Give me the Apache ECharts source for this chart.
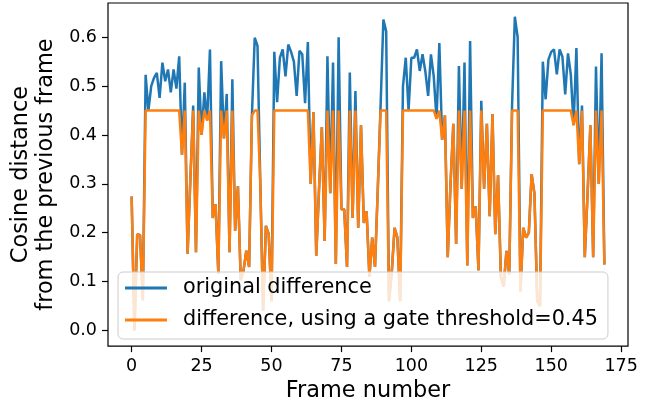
<!DOCTYPE html>
<html>
<head>
<meta charset="utf-8">
<title>Cosine distance per frame</title>
<script src="https://cdn.jsdelivr.net/npm/echarts@6/dist/echarts.min.js"></script>
<style>
  html, body { margin: 0; padding: 0; background: #fff; }
  #chart { width: 652px; height: 407px; }
</style>
</head>
<body>
<div id="chart"></div>
<script>
// cosine distance between consecutive frames
const originalDiff = [
  0.274, 0.0, 0.197, 0.195, 0.062, 0.523, 0.45, 0.50, 0.517, 0.527,
  0.476, 0.548, 0.51, 0.534, 0.487, 0.534, 0.495, 0.561, 0.359, 0.507,
  0.157, 0.31, 0.46, 0.16, 0.538, 0.40, 0.487, 0.43, 0.575, 0.23,
  0.258, 0.116, 0.551, 0.393, 0.484, 0.16, 0.514, 0.204, 0.295, 0.103,
  0.123, 0.163, 0.13, 0.44, 0.599, 0.582, 0.30, 0.04, 0.214, 0.197,
  0.06, 0.57, 0.467, 0.558, 0.575, 0.52, 0.585, 0.57, 0.55, 0.48,
  0.572, 0.565, 0.465, 0.59, 0.30, 0.447, 0.153, 0.29, 0.416, 0.183,
  0.561, 0.281, 0.548, 0.136, 0.60, 0.248, 0.248, 0.13, 0.528, 0.23,
  0.49, 0.21, 0.42, 0.22, 0.244, 0.11, 0.19, 0.13, 0.29, 0.46,
  0.636, 0.612, 0.06, 0.12, 0.21, 0.19, 0.06, 0.50, 0.558, 0.45,
  0.558, 0.558, 0.575, 0.531, 0.565, 0.53, 0.48, 0.565, 0.52, 0.433,
  0.588, 0.39, 0.44, 0.15, 0.30, 0.423, 0.177, 0.541, 0.29, 0.548,
  0.133, 0.592, 0.23, 0.254, 0.123, 0.47, 0.29, 0.423, 0.234, 0.443,
  0.197, 0.318, 0.11, 0.09, 0.163, 0.115, 0.46, 0.642, 0.60, 0.08,
  0.21, 0.19, 0.20, 0.32, 0.28, 0.06, 0.05, 0.55, 0.473, 0.554,
  0.57, 0.575, 0.524, 0.575, 0.56, 0.483, 0.567, 0.524, 0.42, 0.578,
  0.34, 0.46, 0.15, 0.28, 0.42, 0.15, 0.54, 0.30, 0.567, 0.135
];

// same curve with the gate at 0.45
const gatedDiff = [
  0.274, 0.0, 0.197, 0.195, 0.062, 0.45, 0.45, 0.45, 0.45, 0.45,
  0.45, 0.45, 0.45, 0.45, 0.45, 0.45, 0.45, 0.45, 0.359, 0.45,
  0.157, 0.31, 0.45, 0.16, 0.45, 0.40, 0.45, 0.43, 0.45, 0.23,
  0.258, 0.116, 0.45, 0.393, 0.45, 0.16, 0.45, 0.204, 0.295, 0.103,
  0.123, 0.163, 0.13, 0.44, 0.45, 0.45, 0.30, 0.04, 0.214, 0.197,
  0.06, 0.45, 0.45, 0.45, 0.45, 0.45, 0.45, 0.45, 0.45, 0.45,
  0.45, 0.45, 0.45, 0.45, 0.30, 0.447, 0.153, 0.29, 0.416, 0.183,
  0.45, 0.281, 0.45, 0.136, 0.45, 0.248, 0.248, 0.13, 0.45, 0.23,
  0.45, 0.21, 0.42, 0.22, 0.244, 0.11, 0.19, 0.13, 0.29, 0.45,
  0.45, 0.45, 0.06, 0.12, 0.21, 0.19, 0.06, 0.45, 0.45, 0.45,
  0.45, 0.45, 0.45, 0.45, 0.45, 0.45, 0.45, 0.45, 0.45, 0.433,
  0.45, 0.39, 0.44, 0.15, 0.30, 0.423, 0.177, 0.45, 0.29, 0.45,
  0.133, 0.45, 0.23, 0.254, 0.123, 0.45, 0.29, 0.423, 0.234, 0.443,
  0.197, 0.318, 0.11, 0.09, 0.163, 0.115, 0.45, 0.45, 0.45, 0.08,
  0.21, 0.19, 0.20, 0.32, 0.28, 0.06, 0.05, 0.45, 0.45, 0.45,
  0.45, 0.45, 0.45, 0.45, 0.45, 0.45, 0.45, 0.45, 0.42, 0.45,
  0.34, 0.45, 0.15, 0.28, 0.42, 0.15, 0.45, 0.30, 0.45, 0.135
];

const xTicks = [0, 25, 50, 75, 100, 125, 150, 175];
const yTicks = [0.0, 0.1, 0.2, 0.3, 0.4, 0.5, 0.6];
const seriesNames = ["original difference", "difference, using a gate threshold=0.45"];

const FONT = "DejaVu Sans";

const chart = echarts.init(document.getElementById("chart"));

const option = {
  animation: false,
  color: ["#1f77b4", "#ff7f0e"],
  textStyle: { fontFamily: FONT },
  grid: {
    left: 108,
    right: 24,
    top: 3,
    bottom: 58,
    show: true,
    borderColor: "#000",
    borderWidth: 1.2,
  },
  legend: {
    orient: "vertical",
    left: 118,
    top: 272,
    padding: [5, 10, 8, 7],
    itemGap: 10,
    itemWidth: 42,
    itemHeight: 3,
    icon: "rect",
    backgroundColor: "rgba(255,255,255,0.8)",
    borderColor: "#cccccc",
    borderWidth: 1,
    borderRadius: 5,
    data: seriesNames,
    textStyle: {
      fontFamily: FONT,
      fontSize: 20.8,
      color: "#000",
      lineHeight: 22,
      padding: [0, 0, 0, 11],
    },
  },
  xAxis: {
    type: "value",
    min: -8.45,
    max: 177.45,
    name: "Frame number",
    nameLocation: "middle",
    nameGap: 30,
    nameTextStyle: { fontFamily: FONT, fontSize: 22.4, color: "#000" },
    axisLine: { show: false, onZero: false },
    splitLine: { show: false },
    axisTick: {
      show: true,
      length: 6,
      customValues: xTicks,
      lineStyle: { color: "#000", width: 1.2 },
    },
    axisLabel: {
      customValues: xTicks,
      margin: 11,
      fontFamily: FONT,
      fontSize: 17.5,
      color: "#000",
    },
  },
  yAxis: {
    type: "value",
    min: -0.032,
    max: 0.67,
    name: "Cosine distance\nfrom the previous frame",
    nameLocation: "middle",
    nameRotate: 90,
    nameGap: 37,
    nameTextStyle: { fontFamily: FONT, fontSize: 22.4, color: "#000", lineHeight: 25, align: "center" },
    axisLine: { show: false, onZero: false },
    splitLine: { show: false },
    axisTick: {
      show: true,
      length: 6,
      customValues: yTicks,
      lineStyle: { color: "#000", width: 1.2 },
    },
    axisLabel: {
      customValues: yTicks,
      margin: 11,
      fontFamily: FONT,
      fontSize: 17.5,
      color: "#000",
      formatter: (v) => v.toFixed(1),
    },
  },
  series: [
    {
      name: seriesNames[0],
      type: "line",
      data: originalDiff.map((v, i) => [i, v]),
      symbol: "none",
      lineStyle: { width: 2.5, color: "#1f77b4" },
    },
    {
      name: seriesNames[1],
      type: "line",
      data: gatedDiff.map((v, i) => [i, v]),
      symbol: "none",
      lineStyle: { width: 2.5, color: "#ff7f0e" },
    },
  ],
};

chart.setOption(option);
</script>
</body>
</html>
